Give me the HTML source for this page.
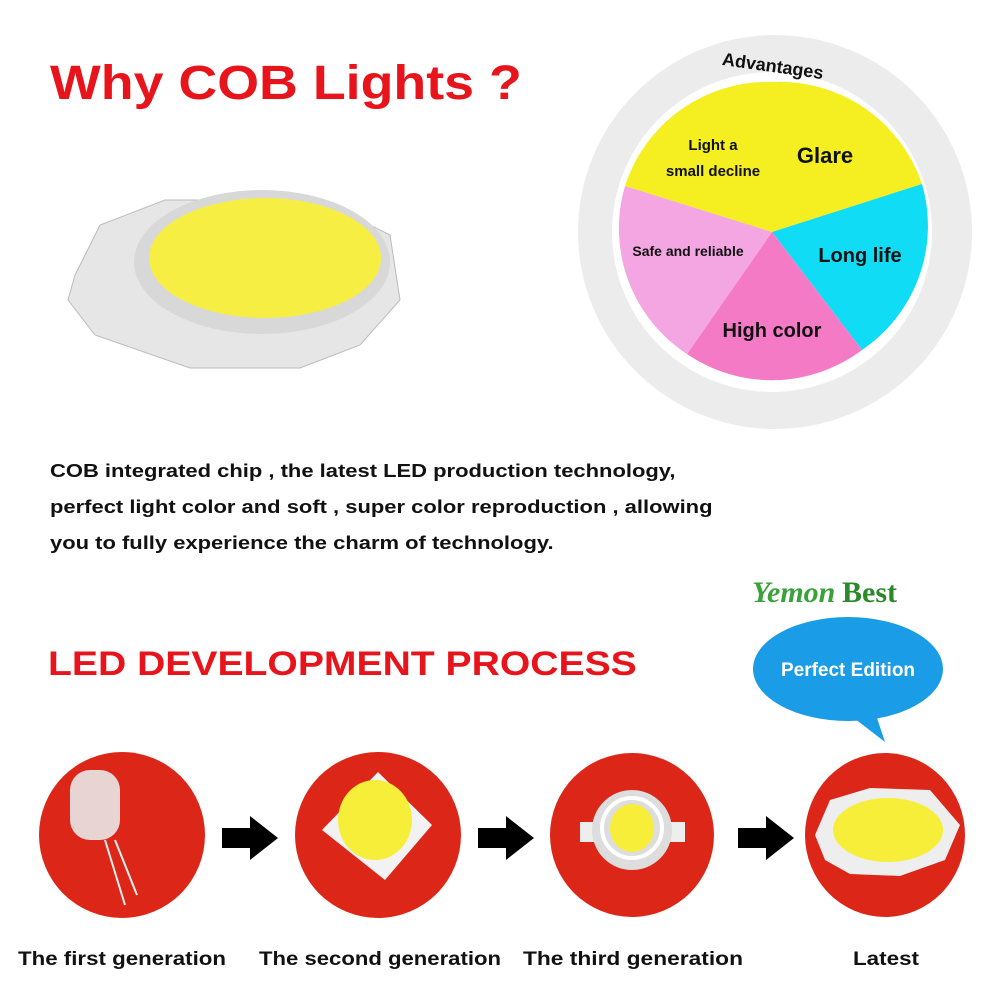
<!DOCTYPE html>
<html><head><meta charset="utf-8"><style>
body{margin:0;width:1000px;height:1000px;background:#fff;position:relative;overflow:hidden;font-family:"Liberation Sans",sans-serif}
.t{position:absolute;font-weight:bold;white-space:nowrap;transform-origin:0 0}
</style></head><body>
<div class="t" style="left:50px;top:56px;font-size:48px;color:#e8141b;transform:scaleX(1.12)">Why COB Lights ?</div>
<svg width="1000" height="1000" style="position:absolute;left:0;top:0">
<g>
<polygon points="75,275 100,225 165,200 320,200 390,235 400,300 360,345 300,368 190,368 95,335 68,300" fill="#e6e6e6" stroke="#bbb"/>
<ellipse cx="262" cy="262" rx="128" ry="72" fill="#d8d8d8"/>
<ellipse cx="265" cy="258" rx="116" ry="60" fill="#f7ee44"/>
</g>
<circle cx="775" cy="232" r="197" fill="#ececec"/>
<circle cx="772" cy="232" r="160" fill="#fff"/>
<g transform="translate(772,232)">
<path d="M0,0 L0,-150 A150,150 0 0,0 -147,-46 Z" fill="#f5ef22"/>
<path d="M0,0 L0,-150 A150,150 0 0,1 150,-48 Z" fill="#f5ef22"/>
<path d="M0,0 L150,-48 A150,150 0 0,1 90,118 Z" fill="#11dcf5"/>
<path d="M0,0 L90,118 A150,150 0 0,1 -85,122 Z" fill="#f57ac6"/>
<path d="M0,0 L-85,122 A150,150 0 0,1 -147,-46 Z" fill="#f4a6e2"/>
</g>
<ellipse cx="848" cy="669" rx="95" ry="52" fill="#1a9de6"/>
<polygon points="850,715 885,742 875,712" fill="#1a9de6"/>
<g fill="#dc2618">
<ellipse cx="122" cy="835" rx="83" ry="83"/>
<ellipse cx="378" cy="835" rx="83" ry="83"/>
<ellipse cx="632" cy="835" rx="82" ry="82"/>
<ellipse cx="885" cy="835" rx="80" ry="82"/>
</g>
<rect x="70" y="770" width="50" height="70" rx="20" fill="#e8e8e8" opacity="0.9"/>
<line x1="105" y1="840" x2="125" y2="905" stroke="#eee" stroke-width="2"/>
<line x1="115" y1="840" x2="137" y2="895" stroke="#eee" stroke-width="2"/>
<polygon points="378,772 432,825 385,880 322,830" fill="#f2f2f2"/>
<ellipse cx="375" cy="820" rx="37" ry="40" fill="#f6ee38"/>
<rect x="580" y="822" width="105" height="20" fill="#eee"/>
<circle cx="632" cy="830" r="40" fill="#ddd"/>
<circle cx="632" cy="828" r="30" fill="#ddd" stroke="#fff" stroke-width="4"/>
<ellipse cx="632" cy="828" rx="22" ry="24" fill="#f6ee38"/>
<polygon points="815,835 830,800 870,788 930,790 960,825 945,860 900,876 850,874 825,860" fill="#eee"/>
<ellipse cx="888" cy="830" rx="55" ry="32" fill="#f6ee38"/>
<g fill="#000">
<polygon points="222,828 250,828 250,816 278,838 250,860 250,848 222,848"/>
<polygon points="478,828 506,828 506,816 534,838 506,860 506,848 478,848"/>
<polygon points="738,828 766,828 766,816 794,838 766,860 766,848 738,848"/>
</g>
<g font-family="Liberation Sans,sans-serif" font-weight="bold" fill="#111" text-anchor="middle">
<text x="713" y="150" font-size="15">Light a</text>
<text x="713" y="176" font-size="15">small decline</text>
<text x="825" y="163" font-size="22">Glare</text>
<text x="688" y="256" font-size="14">Safe and reliable</text>
<text x="860" y="262" font-size="20">Long life</text>
<text x="772" y="337" font-size="20">High color</text>
<text x="772" y="72" font-size="18" transform="rotate(8 772 72)">Advantages</text>
<text x="848" y="676" font-size="19" fill="#fff">Perfect Edition</text>
<text x="122" y="965" font-size="19" textLength="208" lengthAdjust="spacingAndGlyphs">The first generation</text>
<text x="380" y="965" font-size="19" textLength="242" lengthAdjust="spacingAndGlyphs">The second generation</text>
<text x="633" y="965" font-size="19" textLength="220" lengthAdjust="spacingAndGlyphs">The third generation</text>
<text x="886" y="965" font-size="19" textLength="66" lengthAdjust="spacingAndGlyphs">Latest</text>
</g>
<text x="752" y="602" font-family="Liberation Serif,serif" font-style="italic" font-weight="bold" font-size="30" fill="#3aa23a">Yemon</text>
<text x="842" y="602" font-family="Liberation Serif,serif" font-weight="bold" font-size="30" fill="#2a8a2a">Best</text>
</svg>
<div class="t" style="left:50px;top:453px;font-size:18px;line-height:36px;color:#111;transform:scaleX(1.22)">COB integrated chip , the latest LED production technology,<br>perfect light color and soft , super color reproduction , allowing<br>you to fully experience the charm of technology.</div>
<div class="t" style="left:48px;top:645px;font-size:34px;color:#e8141b;transform:scaleX(1.15)">LED DEVELOPMENT PROCESS</div>
</body></html>
